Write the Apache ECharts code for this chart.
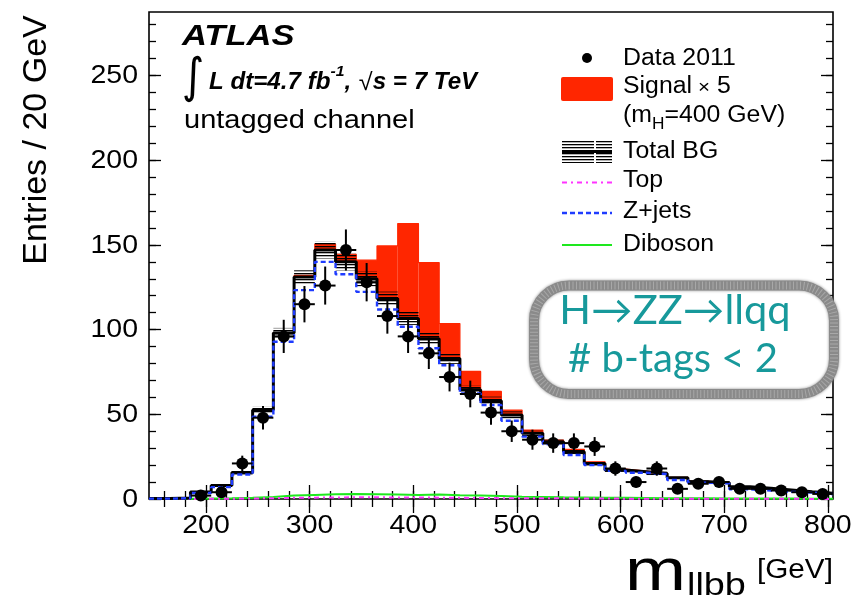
<!DOCTYPE html>
<html>
<head>
<meta charset="utf-8">
<script src="https://cdn.jsdelivr.net/npm/echarts@6/dist/echarts.min.js"></script>
<style>
  html, body { margin: 0; padding: 0; background: #fff; }
  #c { width: 854px; height: 601px; }
</style>
</head>
<body>
<div id="c"></div>
<script>
// m_llbb histogram, 20 GeV bins from 145 to 805 GeV
const binCenters = [155,175,195,215,235,255,275,295,315,335,355,375,395,415,435,455,475,495,515,535,555,575,595,615,635,655,675,695,715,735,755,775,795];
const binWidth = 20;

// Data 2011 (events per bin)
const dataCounts = [null,null,2,4,21,48,96,115,126,147,128,108,96,86,72,62,51,40,35,33,33,31,18,10,18,6,9,10,6,6,5,4,3];

// Total background and its uncertainty
const totalBG    = [0.3,0.6,4.2,8,15.7,52.5,98,131,147,140,130,118.4,106.6,94.6,83,64.5,58,49.6,38.8,33.8,27.9,21,17.1,16.1,15.1,12.5,10.2,9.6,7.2,6.3,5.3,4.3,3.4];
const totalBGErr = [0.1,0.2,0.6,0.8,1.2,2,3,4,5,5,4.5,4,3.8,3.5,3.2,2.6,2.4,2.1,1.8,1.6,1.4,1.2,1.1,1,1,0.9,0.8,0.8,0.7,0.6,0.6,0.5,0.5];

// Signal x 5 (m_H = 400 GeV), stacked on the total background
const signalX5 = [0,0,0,0,0,0,0.3,1,3.5,4.5,11,31,56,45,20.6,10.8,5.5,2.9,1.9,1,1.4,1,0.5,0.4,0.3,0.3,0.2,0.2,0.1,0.1,0.1,0.1,0.1];

// Background components
const zJets   = [0.2,0.5,3.5,7,14.5,48.6,92.8,123.3,140,132.7,122.3,111.9,101.7,89,79,62.3,55.5,46.2,36.8,32.4,26,20,16.7,15.5,14.7,11.2,9.6,9.2,5.7,5,4.3,3.8,2.9];
const topBG   = [0,0,0.1,0.2,0.3,0.5,0.7,0.8,0.9,1,1,0.9,0.9,0.8,0.7,0.6,0.5,0.5,0.4,0.4,0.3,0.3,0.2,0.2,0.2,0.15,0.1,0.1,0.1,0.1,0.1,0.05,0.05];
const diboson = [0.1,0.2,0.3,0.5,0.8,1.2,2,2.4,2.8,3,2.8,2.6,2.4,2.6,2.2,2,1.7,1.4,1.2,1,0.9,0.8,0.7,0.6,0.5,0.45,0.4,0.35,0.3,0.3,0.25,0.2,0.2];

// Axis tick labels
const xTickLabels = [200,300,400,500,600,700,800];
const yTickLabels = [0,50,100,150,200,250];

const X_MIN = 145, X_MAX = 805, Y_MIN = 0, Y_MAX = 287.5;
const SANS = "'Liberation Sans', Arial, Helvetica, sans-serif";
const HUMANIST = "Lato, 'Open Sans', sans-serif";

const minorX = []; for (let v = 160; v <= 800; v += 20) minorX.push(v);
const minorY = []; for (let v = 10; v <= 280; v += 10) minorY.push(v);

// horizontal hatch used for the background uncertainty
const hatch = document.createElement('canvas');
hatch.width = 8; hatch.height = 3;
(function () {
  const g = hatch.getContext('2d');
  g.fillStyle = '#000';
  g.fillRect(0, 0, 8, 1.3);
})();

const edges = binCenters.map(c => c - binWidth / 2).concat([binCenters[binCenters.length - 1] + binWidth / 2]);
const stepData = vals => edges.map((e, i) => [e, vals[Math.min(i, vals.length - 1)]]);

const chart = echarts.init(document.getElementById('c'), null, { renderer: 'canvas' });

function xAxisDef(position, ticks, len) {
  return {
    type: 'value', min: X_MIN, max: X_MAX, position: position, gridIndex: 0,
    axisLine: { show: false }, splitLine: { show: false }, axisLabel: { show: false },
    axisTick: { show: true, inside: true, length: len, customValues: ticks, lineStyle: { color: '#000', width: 1.3 } }
  };
}
function yAxisDef(position, ticks, len) {
  return {
    type: 'value', min: Y_MIN, max: Y_MAX, position: position, gridIndex: 0,
    axisLine: { show: false }, splitLine: { show: false }, axisLabel: { show: false },
    axisTick: { show: true, inside: true, length: len, customValues: ticks, lineStyle: { color: '#000', width: 1.3 } }
  };
}

const option = {
  animation: false,
  backgroundColor: '#fff',
  grid: { left: 149, right: 21, top: 12, bottom: 102, show: true, borderColor: '#000', borderWidth: 1.6, backgroundColor: 'transparent' },
  xAxis: [
    xAxisDef('bottom', minorX, 8), xAxisDef('bottom', xTickLabels, 14),
    xAxisDef('top', minorX, 8), xAxisDef('top', xTickLabels, 14)
  ],
  yAxis: [
    yAxisDef('left', minorY, 7), yAxisDef('left', yTickLabels, 12),
    yAxisDef('right', minorY, 7), yAxisDef('right', yTickLabels, 12)
  ],
  series: [
    {
      name: 'Signal x 5', type: 'custom', clip: true, z: 2,
      data: binCenters.map((c, i) => [c, totalBG[i], signalX5[i]]),
      renderItem: function (params, api) {
        const c = api.value(0), b = api.value(1), s = api.value(2);
        if (s <= 0) return null;
        const p0 = api.coord([c - binWidth / 2, b + s]);
        const p1 = api.coord([c + binWidth / 2, b]);
        return { type: 'rect', shape: { x: p0[0], y: p0[1], width: p1[0] - p0[0], height: p1[1] - p0[1] }, style: { fill: '#ff2600' } };
      }
    },
    {
      name: 'Signal outline', type: 'line', step: 'end', symbol: 'none', z: 2,
      data: stepData(totalBG.map((b, i) => b + signalX5[i])),
      lineStyle: { color: '#ff2600', width: 1.2 }
    },
    {
      name: 'Total BG band', type: 'custom', clip: true, z: 3,
      data: binCenters.map((c, i) => [c, totalBG[i], totalBGErr[i]]),
      renderItem: function (params, api) {
        const c = api.value(0), b = api.value(1), e = api.value(2);
        const p0 = api.coord([c - binWidth / 2, b + e]);
        const p1 = api.coord([c + binWidth / 2, b - e]);
        return { type: 'rect', shape: { x: p0[0], y: p0[1], width: p1[0] - p0[0], height: p1[1] - p0[1] }, style: { fill: { image: hatch, repeat: 'repeat' } } };
      }
    },
    {
      name: 'Diboson', type: 'line', step: 'end', symbol: 'none', z: 4,
      data: stepData(diboson), lineStyle: { color: '#1ee81e', width: 2 }
    },
    {
      name: 'Top', type: 'line', step: 'end', symbol: 'none', z: 4,
      data: stepData(topBG), lineStyle: { color: '#ff33ff', width: 2, type: [5, 4, 2, 4] }
    },
    {
      name: 'Total BG', type: 'line', step: 'end', symbol: 'none', z: 5,
      data: stepData(totalBG), lineStyle: { color: '#000', width: 3 }
    },
    {
      name: 'Z+jets', type: 'line', step: 'end', symbol: 'none', z: 6,
      data: stepData(zJets), lineStyle: { color: '#1f3cff', width: 2.4, type: [5, 3] }
    },
    {
      name: 'Data error', type: 'custom', clip: true, z: 7,
      data: binCenters.map((c, i) => [c, dataCounts[i]]).filter(d => d[1] !== null),
      renderItem: function (params, api) {
        const c = api.value(0), n = api.value(1), err = Math.sqrt(n);
        const a = api.coord([c, n + err]), b = api.coord([c, Math.max(n - err, 0)]);
        const l = api.coord([c - binWidth / 2, n]), r = api.coord([c + binWidth / 2, n]);
        return {
          type: 'group', children: [
            { type: 'line', shape: { x1: a[0], y1: a[1], x2: b[0], y2: b[1] }, style: { stroke: '#000', lineWidth: 2 } },
            { type: 'line', shape: { x1: l[0], y1: l[1], x2: r[0], y2: r[1] }, style: { stroke: '#000', lineWidth: 2 } }
          ]
        };
      }
    },
    {
      name: 'Data 2011', type: 'scatter', z: 8, symbol: 'circle', symbolSize: 12,
      itemStyle: { color: '#000', opacity: 1 },
      data: binCenters.map((c, i) => [c, dataCounts[i]]).filter(d => d[1] !== null)
    }
  ]
};
chart.setOption(option);

// ---- text and legend overlay ----
const mctx = document.createElement('canvas').getContext('2d');
function fontStr(p) {
  return (p.style || 'normal') + ' ' + (p.weight || 'normal') + ' ' + p.size + 'px ' + (p.family || SANS);
}
// lays out text fragments left to right on a common middle line
function run(parts, x0, yMid, sx) {
  let x = x0;
  const out = [];
  parts.forEach(p => {
    const f = fontStr(p);
    mctx.font = f;
    x += (p.pre || 0);
    const w = mctx.measureText(p.text).width * sx;
    out.push({
      type: 'text', x: x, y: yMid + (p.dy || 0), scaleX: sx, silent: true, z: 100,
      style: { text: p.text, font: f, fill: p.color || '#000', align: 'left', verticalAlign: 'middle' }
    });
    x += w + (p.dx || 0);
  });
  return out;
}

const px = v => chart.convertToPixel({ xAxisIndex: 0 }, v);
const py = v => chart.convertToPixel({ yAxisIndex: 0 }, v);
const LBL_SX = 1.14;
const els = [];

yTickLabels.forEach(v => els.push({
  type: 'text', x: 138, y: py(v) + 1, scaleX: LBL_SX, silent: true,
  style: { text: String(v), font: '25px ' + SANS, fill: '#000', align: 'right', verticalAlign: 'middle' }
}));
xTickLabels.forEach(v => els.push({
  type: 'text', x: px(v), y: 526, scaleX: LBL_SX, silent: true,
  style: { text: String(v), font: '25px ' + SANS, fill: '#000', align: 'center', verticalAlign: 'middle' }
}));

// axis titles
els.push({
  type: 'text', x: 37, y: 140, rotation: Math.PI / 2, silent: true,
  style: { text: 'Entries / 20 GeV', font: '34px ' + SANS, fill: '#000', align: 'center', verticalAlign: 'middle' }
});
els.push(...run([
  { text: 'm', size: 60, dx: 1 },
  { text: 'llbb', size: 31, dy: 13 }
], 625, 573, 1.22));
els.push(...run([{ text: '[GeV]', size: 27 }], 757, 571, 1.1));

// ATLAS label block
els.push(...run([{ text: 'ATLAS', size: 30, weight: 'bold', style: 'italic' }], 182, 37, 1.15));
els.push({
  type: 'text', x: 182, y: 80, scaleX: 0.9, silent: true,
  style: { text: '\u222B', font: '48px "DejaVu Sans"', fill: '#000', align: 'left', verticalAlign: 'middle' }
});
els.push(...run([
  { text: 'L dt=4.7 fb', size: 23, weight: 'bold', style: 'italic' },
  { text: '-1', size: 15, weight: 'bold', style: 'italic', dy: -11 },
  { text: ', ', size: 23, weight: 'bold', style: 'italic', dx: 1 },
  { text: '\u221A', size: 24 },
  { text: 's = 7 TeV', size: 23, weight: 'bold', style: 'italic' }
], 209, 83, 1.05));
els.push(...run([{ text: 'untagged channel', size: 25 }], 184, 121, 1.16));

// legend
const LX = 623, LSX = 1.08;
els.push({ type: 'circle', shape: { cx: 587, cy: 58, r: 5 }, style: { fill: '#000' }, silent: true });
els.push(...run([{ text: 'Data 2011', size: 23 }], LX, 59, LSX));
els.push({ type: 'rect', shape: { x: 561, y: 77, width: 52, height: 24, r: 2 }, style: { fill: '#ff2600' }, silent: true });
els.push(...run([
  { text: 'Signal', size: 23 },
  { text: '\u00D7', size: 19, dy: 1, pre: 6 },
  { text: '5', size: 23, pre: 7 }
], LX, 87, LSX));
els.push(...run([
  { text: '(m', size: 23 },
  { text: 'H', size: 16, dy: 9 },
  { text: '=400 GeV)', size: 23 }
], LX, 116, LSX));
els.push({ type: 'rect', shape: { x: 562, y: 140, width: 32, height: 23 }, style: { fill: { image: hatch, repeat: 'repeat' } }, silent: true });
els.push({ type: 'rect', shape: { x: 596, y: 140, width: 16, height: 23 }, style: { fill: { image: hatch, repeat: 'repeat' } }, silent: true });
els.push({ type: 'line', shape: { x1: 562, y1: 151.5, x2: 612, y2: 151.5 }, style: { stroke: '#000', lineWidth: 3 }, silent: true });
els.push(...run([{ text: 'Total BG', size: 23 }], LX, 152, LSX));
els.push({ type: 'line', shape: { x1: 562, y1: 182.5, x2: 612, y2: 182.5 }, style: { stroke: '#ff33ff', lineWidth: 2, lineDash: [5, 4, 2, 4] }, silent: true });
els.push(...run([{ text: 'Top', size: 23 }], LX, 181, LSX));
els.push({ type: 'line', shape: { x1: 562, y1: 213, x2: 612, y2: 213 }, style: { stroke: '#1f3cff', lineWidth: 2.4, lineDash: [5, 3] }, silent: true });
els.push(...run([{ text: 'Z+jets', size: 23 }], LX, 212, LSX));
els.push({ type: 'line', shape: { x1: 562, y1: 245, x2: 612, y2: 245 }, style: { stroke: '#1ee81e', lineWidth: 2 }, silent: true });
els.push(...run([{ text: 'Diboson', size: 23 }], LX, 245, LSX));

// channel box with a grainy grey border
const boxShape = { x: 534, y: 285.5, width: 300, height: 108.5, r: 35 };
els.push({
  type: 'rect', shape: boxShape, silent: true, z: 90,
  style: { fill: '#fff', stroke: '#8a8a8a', lineWidth: 10, shadowBlur: 3, shadowColor: '#888' }
});
els.push({
  type: 'rect', shape: boxShape, silent: true, z: 91,
  style: { fill: 'none', stroke: '#a8a8a8', lineWidth: 8, lineDash: [1, 2.5] }
});
els.push({
  type: 'text', x: 675, y: 311, scaleX: 1.04, silent: true, z: 95,
  style: { text: 'H\u2192ZZ\u2192llqq', font: '40px ' + HUMANIST, fill: '#17999b', align: 'center', verticalAlign: 'middle' }
});
els.push({
  type: 'text', x: 673, y: 359, silent: true, z: 95,
  style: { text: '# b-tags < 2', font: '40px ' + HUMANIST, fill: '#17999b', align: 'center', verticalAlign: 'middle' }
});

chart.setOption({ graphic: { elements: els } });
</script>
</body>
</html>
